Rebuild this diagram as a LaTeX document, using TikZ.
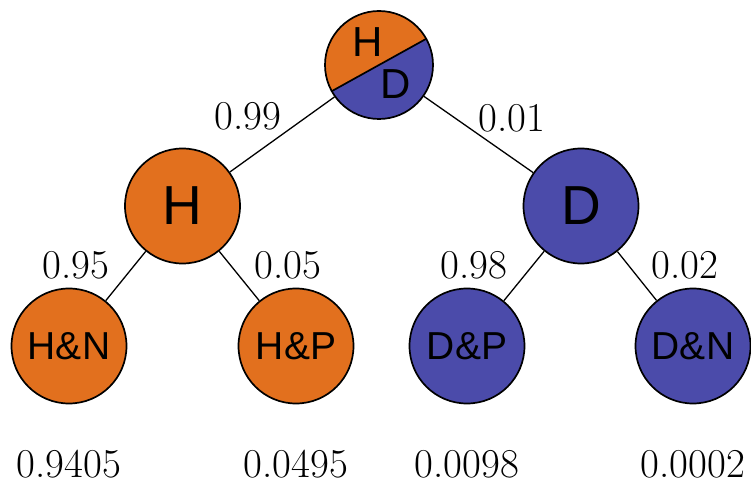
\documentclass[tikz,border=0pt]{standalone}
\usepackage{fontspec}
\newfontfamily\labfont{Liberation Sans}
\definecolor{hor}{RGB}{226,112,30}
\definecolor{dbl}{RGB}{75,75,170}
\tikzset{
  st/.style={circle, draw=black, line width=1.7pt, minimum size=115pt, inner sep=0pt, font=\labfont\fontsize{39}{40}\selectfont},
  bigst/.style={st, font=\labfont\fontsize{55}{56}\selectfont},
  hst/.style={fill=hor},
  dst/.style={fill=dbl},
  edge/.style={line width=1.3pt},
  prob/.style={font=\fontsize{41}{42}\selectfont, inner sep=0pt},
  res/.style={prob, anchor=base},
}
\begin{document}
\begin{tikzpicture}[x=1pt,y=1pt]
\useasboundingbox (0,0) rectangle (751,484);
\node[circle, draw=black, line width=1.7pt, minimum size=108pt, inner sep=0pt, fill=dbl,
  path picture={\fill[hor] (path picture bounding box.center) -- ++(29:70) arc (29:209:70) -- cycle;
  \draw[line width=1.7pt] (path picture bounding box.center) ++(29:70) -- ++(209:140);}] (top) at (379,419) {};
\node[font=\labfont\fontsize{42}{43}\selectfont, inner sep=0pt] (tH) at (368,442) {H};
\node[font=\labfont\fontsize{42}{43}\selectfont, inner sep=0pt] (tD) at (396,400) {D};
\node[bigst, hst] (H) at (182.5,278) {H};
\node[bigst, dst] (D) at (581,278) {D};
\node[st, hst] (HN) at (69,138) {H\&N};
\node[st, hst] (HP) at (296,138) {H\&P};
\node[st, dst] (DP) at (467,138) {D\&P};
\node[st, dst] (DN) at (693,138) {D\&N};
\draw[edge] (top) -- (H);
\draw[edge] (top) -- (D);
\draw[edge] (H) -- (HN);
\draw[edge] (H) -- (HP);
\draw[edge] (D) -- (DP);
\draw[edge] (D) -- (DN);
\node[prob] (p1) at (248,368) {0.99};
\node[prob] (p2) at (512,366) {0.01};
\node[prob] (p3) at (76,219) {0.95};
\node[prob] (p4) at (288,219) {0.05};
\node[prob] (p5) at (474,219) {0.98};
\node[prob] (p6) at (685,219) {0.02};
\node[res] (r1) at (69,7) {0.9405};
\node[res] (r2) at (296,7) {0.0495};
\node[res] (r3) at (467,7) {0.0098};
\node[res] (r4) at (693,7) {0.0002};
\end{tikzpicture}
\end{document}
